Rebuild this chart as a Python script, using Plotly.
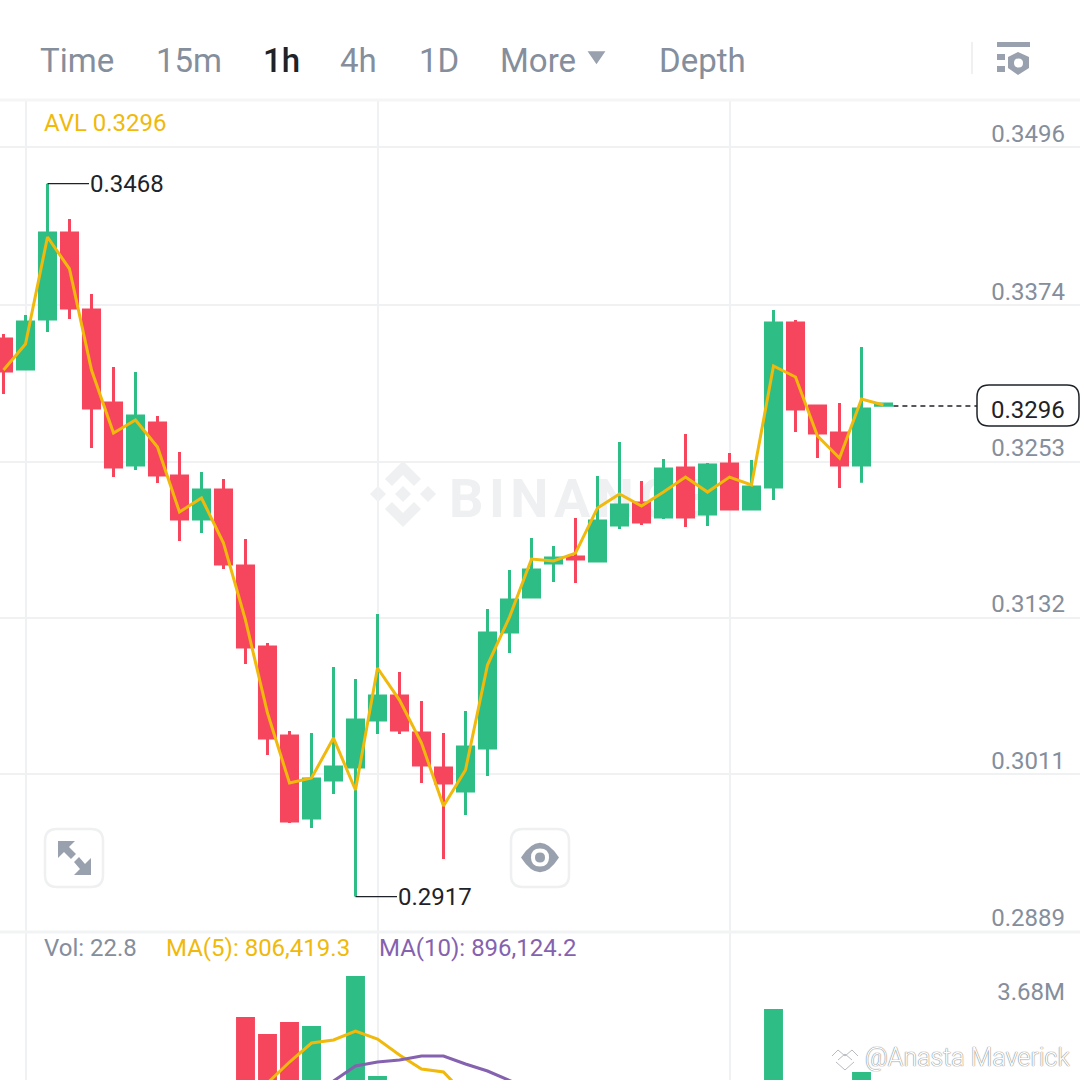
import plotly.graph_objects as go

# candles, one per hour, left to right
opens = [0.33478, 0.33246, 0.33633, 0.34298, 0.33703, 0.32983, 0.32503, 0.32828, 0.32418, 0.32086, 0.32310,
         0.31722, 0.31095, 0.30407, 0.29772, 0.30066, 0.30167, 0.30530, 0.30716, 0.30430, 0.30159, 0.29981,
         0.30314, 0.31211, 0.31482, 0.31745, 0.31791, 0.31761, 0.32039, 0.32209, 0.32101, 0.32480, 0.32124,
         0.32511, 0.32163, 0.32333, 0.33602, 0.32960, 0.32751, 0.32503, 0.32965]
highs = [0.33517, 0.33664, 0.34680, 0.34407, 0.33826, 0.33262, 0.33223, 0.32882, 0.32604, 0.32449, 0.32395,
         0.31931, 0.31126, 0.30445, 0.30430, 0.30940, 0.30848, 0.31350, 0.30902, 0.30677, 0.30430, 0.30600,
         0.31389, 0.31691, 0.31938, 0.31877, 0.32093, 0.32418, 0.32681, 0.32380, 0.32550, 0.32743, 0.32519,
         0.32596, 0.32542, 0.33703, 0.33625, 0.32960, 0.32983, 0.33416, 0.32975]
lows = [0.33053, 0.33238, 0.33532, 0.33633, 0.32635, 0.32410, 0.32465, 0.32364, 0.31915, 0.31977, 0.31699,
        0.30964, 0.30260, 0.29733, 0.29695, 0.29958, 0.29165, 0.30422, 0.30422, 0.30043, 0.29455, 0.29795,
        0.30097, 0.31049, 0.31482, 0.31598, 0.31590, 0.31761, 0.32008, 0.32039, 0.32086, 0.32024, 0.32031,
        0.32163, 0.32163, 0.32232, 0.32759, 0.32557, 0.32325, 0.32366, 0.32965]
closes = [0.33231, 0.33610, 0.34298, 0.33718, 0.32944, 0.32488, 0.32882, 0.32426, 0.32086, 0.32310, 0.31737,
          0.31095, 0.30391, 0.29749, 0.30074, 0.30167, 0.30530, 0.30716, 0.30453, 0.30182, 0.30043, 0.30321,
          0.31203, 0.31459, 0.31691, 0.31784, 0.31776, 0.32070, 0.32194, 0.32062, 0.32472, 0.32101, 0.32503,
          0.32163, 0.32333, 0.33602, 0.32937, 0.32751, 0.32503, 0.32937, 0.32975]
avl = [0.33238, 0.33439, 0.34267, 0.34020, 0.33238, 0.32751, 0.32851, 0.32643, 0.32140, 0.32248, 0.31900,
       0.31304, 0.30585, 0.30043, 0.30082, 0.30391, 0.29989, 0.30933, 0.30685, 0.30352, 0.29865, 0.30144,
       0.30956, 0.31327, 0.31776, 0.31761, 0.31822, 0.32171, 0.32279, 0.32186, 0.32294, 0.32410, 0.32294,
       0.32410, 0.32349, 0.33269, 0.33184, 0.32728, 0.32557, 0.33014, 0.32968]
last_price = 0.3296

# volume panel, only the tops that rise above the crop can be read
volumes = [None, None, None, None, None, None, None, None, None, None, None,
           3006000, 2727000, 2924000, 2859000, None, 3680000, 2037000, None, None, None, None,
           None, None, None, None, None, None, None, None, None, None, None,
           None, None, 3138000, None, None, None, 2103000, None]
ma5 = [None, None, None, None, None, None, None, None, None, None, None, None,
       1922000, 2267000, 2579000, 2629000, 2776000, 2645000, 2382000, 2152000, 2103000, 1725000]
ma10 = [None, None, None, None, None, None, None, None, None, None, None, None, None, None,
        1725000, 1955000, 2201000, 2267000, 2300000, 2366000, 2366000, 2234000, 2119000, 1971000, 1807000]

price_ticks = [0.3496, 0.3374, 0.3253, 0.3132, 0.3011, 0.2889]
price_labels = ["0.3496", "0.3374", "0.3253", "0.3132", "0.3011", "0.2889"]
time_grid = [1, 17, 33]
menu_items = ["Time", "15m", "1h", "4h", "1D", "More", "Depth"]

GREEN = "#2EBD85"
RED = "#F6465D"
YELLOW = "#F0B90B"
GREY = "#848E9C"
DARK = "#1E2329"
PURPLE = "#8562B0"
GRID = "#F0F1F3"
FONT = "Roboto"
W = 1080


def fx(px):
    return px / W


def fy(py):
    return 1 - py / W


def path(points, close=True):
    s = "M " + " L ".join(f"{fx(x):.5f} {fy(y):.5f}" for x, y in points)
    return s + (" Z" if close else "")


def round_box(x0, y0, x1, y1, r):
    return (f"M {fx(x0 + r)} {fy(y0)} L {fx(x1 - r)} {fy(y0)} Q {fx(x1)} {fy(y0)} {fx(x1)} {fy(y0 + r)} "
            f"L {fx(x1)} {fy(y1 - r)} Q {fx(x1)} {fy(y1)} {fx(x1 - r)} {fy(y1)} "
            f"L {fx(x0 + r)} {fy(y1)} Q {fx(x0)} {fy(y1)} {fx(x0)} {fy(y1 - r)} "
            f"L {fx(x0)} {fy(y0 + r)} Q {fx(x0)} {fy(y0)} {fx(x0 + r)} {fy(y0)} Z")


def disc(cx, cy, r):
    return round_box(cx - r, cy - r, cx + r, cy + r, r)


def paper_shape(d, fill="rgba(0,0,0,0)", line=None, width=0, layer="above"):
    return dict(type="path", xref="paper", yref="paper", path=d, fillcolor=fill, layer=layer,
                line=dict(color=line or fill, width=width))


def text_at(text, px, py, color=GREY, size=24, **kw):
    return dict(text=text, xref="paper", yref="paper", x=fx(px), y=fy(py), showarrow=False,
                xanchor="left", yanchor="middle", borderpad=0,
                font=dict(family=FONT, size=size, color=color, **kw))


idx = list(range(len(closes)))
vol_colors = [GREEN if c >= o else RED for o, c in zip(opens, closes)]

fig = go.Figure()
fig.add_trace(go.Candlestick(
    x=idx, open=opens, high=highs, low=lows, close=closes, whiskerwidth=0,
    increasing=dict(line=dict(color=GREEN, width=3), fillcolor=GREEN),
    decreasing=dict(line=dict(color=RED, width=3), fillcolor=RED),
    xaxis="x", yaxis="y", showlegend=False,
))
fig.add_trace(go.Scatter(x=idx, y=avl, mode="lines", line=dict(color=YELLOW, width=3),
                         xaxis="x", yaxis="y", showlegend=False))
fig.add_trace(go.Bar(x=idx, y=volumes, width=0.86, marker=dict(color=vol_colors, line=dict(width=0)),
                     xaxis="x2", yaxis="y2", showlegend=False))
fig.add_trace(go.Scatter(x=idx, y=ma5, mode="lines", line=dict(color=YELLOW, width=3),
                         xaxis="x2", yaxis="y2", showlegend=False))
fig.add_trace(go.Scatter(x=idx, y=ma10, mode="lines", line=dict(color=PURPLE, width=3),
                         xaxis="x2", yaxis="y2", showlegend=False))

x_axis = dict(range=[-3.5 / 22, (W - 3.5) / 22], tickmode="array", tickvals=time_grid, showticklabels=False,
              ticks="", showgrid=True, gridcolor=GRID, gridwidth=1.5, zeroline=False, showline=False,
              rangeslider=dict(visible=False))
axis_y = dict(side="right", ticklabelposition="inside", ticks="", zeroline=False, showline=False,
              ticklabeloverflow="allow", tickfont=dict(family=FONT, size=24, color=GREY), ticklabelstandoff=12)

shapes = [
    # watermark under the candles
    dict(type="rect", xref="paper", yref="paper", x0=fx(443), x1=fx(780), y0=fy(518), y1=fy(470), layer="below",
         line=dict(width=0), fillcolor="rgba(0,0,0,0)",
         label=dict(text="B\u200aI\u200aN\u200aA\u200aN\u200aC\u200aE", textposition="middle left",
                    font=dict(family=FONT, size=54, color="#EEF0F1", weight=700))),
    # top rule and panel rule
    dict(type="line", xref="paper", yref="paper", x0=0, x1=1, y0=fy(100), y1=fy(100),
         line=dict(color="#F5F5F5", width=3)),
    dict(type="line", xref="paper", yref="paper", x0=0, x1=1, y0=fy(932), y1=fy(932),
         line=dict(color="#F2F3F4", width=3)),
    # last price line and box
    dict(type="line", xref="x", yref="y", x0=idx[-1] + 0.45, x1=(977 - 3.5) / 22, y0=last_price, y1=last_price,
         line=dict(color=DARK, width=1.5, dash="5px,4px")),
    paper_shape(round_box(977, 385, 1079, 426, 12), fill="#FFFFFF", line=DARK, width=1.5),
    # header divider
    dict(type="line", xref="paper", yref="paper", x0=fx(972), x1=fx(972), y0=fy(42), y1=fy(74),
         line=dict(color="#EEF0F1", width=2)),
    # More triangle
    paper_shape(path([(589, 52), (604, 52), (596.5, 63)]), fill="#98A1AD", line="#98A1AD", width=1.5),
    # settings icon
    paper_shape(path([(997, 42), (1030, 42), (1030, 47), (997, 47)]), fill="#98A1AD"),
    paper_shape(path([(997, 54), (1005, 54), (1005, 60), (997, 60)]), fill="#98A1AD"),
    paper_shape(path([(997, 66), (1005, 66), (1005, 72), (997, 72)]), fill="#98A1AD"),
    paper_shape(path([(1018, 52), (1029, 57), (1029, 68), (1018, 75), (1008, 68), (1008, 57)]), fill="#98A1AD"),
    paper_shape(disc(1018.5, 63, 4.5), fill="#FFFFFF"),
    # expand button
    paper_shape(round_box(45, 829, 103, 887, 12), fill="#FFFFFF", line="#EEF0F1", width=2.5),
    paper_shape(path([(58, 841), (75, 841), (69, 847), (76, 854), (71, 859), (64, 852), (58, 858)]), fill="#98A1AD"),
    paper_shape(path([(91, 875), (74, 875), (80, 869), (74, 862), (79, 857), (85, 864), (91, 858)]), fill="#98A1AD"),
    # eye button
    paper_shape(round_box(511, 829, 569, 887, 12), fill="#FFFFFF", line="#EEF0F1", width=2.5),
    paper_shape("M " + f"{fx(521)} {fy(857.5)} Q {fx(540)} {fy(828)} {fx(559)} {fy(857.5)} "
                f"Q {fx(540)} {fy(887)} {fx(521)} {fy(857.5)} Z", fill="#98A1AD"),
    paper_shape(disc(540, 857.5, 9), fill="#FFFFFF"),
    paper_shape(disc(540, 857.5, 5), fill="#98A1AD"),
    # author logo, lower right
    paper_shape(path([(832, 1056), (838, 1050), (845, 1056), (852, 1050), (858, 1056)], close=False),
                line="#B8BCC2", width=1),
    paper_shape(path([(838, 1060), (845, 1054), (852, 1060)], close=False), line="#B8BCC2", width=1),
    paper_shape(path([(836, 1062), (845, 1070), (854, 1062)], close=False), line="#B8BCC2", width=1),
]
# diamond logo of the watermark
for cx, cy, r in [(378, 494, 8), (403, 494, 8), (428, 494, 8)]:
    shapes.append(paper_shape(path([(cx - r, cy), (cx, cy - r), (cx + r, cy), (cx, cy + r)]),
                              fill="#EEF0F1", layer="below"))
shapes.append(paper_shape(path([(403, 461), (421, 479), (414, 486), (403, 475), (392, 486), (385, 479)]),
                          fill="#EEF0F1", layer="below"))
shapes.append(paper_shape(path([(403, 527), (421, 509), (414, 502), (403, 513), (392, 502), (385, 509)]),
                          fill="#EEF0F1", layer="below"))

menu_px = [39, 155, 262, 339, 418, 499, 658]
annotations = []
for item, px in zip(menu_items, menu_px):
    annotations.append(text_at(item, px, 60, color=DARK if item == "1h" else GREY, size=33,
                               weight=500 if item == "1h" else 400))
annotations += [
    text_at("AVL 0.3296", 43, 123, color=YELLOW),
    text_at("Vol: 22.8", 43, 948),
    text_at("MA(5): 806,419.3", 165, 948, color=YELLOW),
    text_at("MA(10): 896,124.2", 378, 948, color=PURPLE),
    text_at("0.3296", 990, 410, color=DARK),
    text_at("@Anasta Maverick", 864, 1057, color="#FFFFFF", size=25, weight=300,
            shadow="0 0 1px #777777, 0 0 1px #777777"),
    dict(x=idx[2], y=highs[2], xref="x", yref="y", ax=79, ay=0, text="0.3468", arrowhead=0, arrowwidth=1.2,
         arrowcolor=DARK, borderpad=0, font=dict(family=FONT, size=24, color=DARK)),
    dict(x=idx[16], y=lows[16], xref="x", yref="y", ax=79, ay=0, text="0.2917", arrowhead=0, arrowwidth=1.2,
         arrowcolor=DARK, borderpad=0, font=dict(family=FONT, size=24, color=DARK)),
]

fig.update_layout(
    width=W, height=W, margin=dict(l=0, r=0, t=0, b=0), autosize=False,
    paper_bgcolor="#FFFFFF", plot_bgcolor="#FFFFFF", showlegend=False,
    boxmode="overlay", boxgap=0.27, boxgroupgap=0,
    font=dict(family=FONT), hovermode=False,
    xaxis=dict(x_axis, anchor="y", domain=[0, 1]),
    xaxis2=dict(x_axis, anchor="y2", domain=[0, 1], matches="x"),
    yaxis=dict(axis_y, domain=[147.4 / W, 980 / W], range=[0.28886, 0.35327], tickmode="array",
               tickvals=price_ticks, ticktext=price_labels, showgrid=True, gridcolor=GRID, gridwidth=1.5,
               ticklabelshift=-14),
    yaxis2=dict(axis_y, domain=[0, 147.4 / W], range=[1971400, 4392000], tickmode="array",
                tickvals=[3680000], ticktext=["3.68M"], showgrid=False, ticklabelshift=16),
    shapes=shapes,
    annotations=annotations,
)

fig.write_html("out.html", config=dict(displayModeBar=False), post_script="document.body.style.margin = '0';")
